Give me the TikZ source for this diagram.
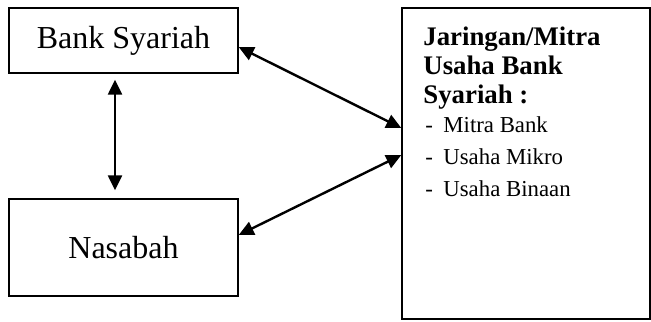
\documentclass[tikz,border=0pt]{standalone}
\usepackage{fontspec}
\setmainfont{Liberation Serif}
\usetikzlibrary{arrows.meta,calc}

\begin{document}
\begin{tikzpicture}
       [x=0.5pt,y=-0.5pt,
        box/.style={shape=rectangle,draw=black,line width=0.7pt,
                    inner sep=0pt,minimum width=114.5pt,
                    font=\fontsize{16}{19}\selectfont},
        link/.style={<->,line width=1.2pt,
                     >={Triangle[length=7.5pt,width=7pt]}}]
       \useasboundingbox (0,0) rectangle (651,321);
       \node [box,minimum height=32.5pt] (bank) at (123.5,40.5) {Bank Syariah};
       \node [box,minimum height=48.5pt] (nasabah) at (123.5,247.5) {Nasabah};
       \node [box,minimum width=124pt,minimum height=155.5pt] (mitra) at (526,163.5) {};
       \node [anchor=base west,inner sep=0pt,align=left] (mitralist) at (423,45)
        {\parbox[t]{110pt}{%
          {\fontsize{13.4}{14.5}\selectfont\bfseries Jaringan/Mitra\\Usaha Bank\\Syariah :\par}
          \vspace{-1.5pt}
          {\fontsize{11.4}{16}\selectfont
           \hspace*{1pt}\makebox[9pt][l]{-}Mitra Bank\\
           \hspace*{1pt}\makebox[9pt][l]{-}Usaha Mikro\\
           \hspace*{1pt}\makebox[9pt][l]{-}Usaha Binaan\par}}};
       \draw [link,shorten <=3pt,shorten >=4pt]
          ([xshift=-4.25pt]bank.south) -- ([xshift=-4.25pt]nasabah.north);
       \draw [link] ([yshift=-3.25pt]bank.east) -- ([yshift=17.75pt]mitra.west);
       \draw [link] ([yshift=4.25pt]mitra.west) -- ([yshift=6.25pt]nasabah.east);
\end{tikzpicture}
\end{document}
